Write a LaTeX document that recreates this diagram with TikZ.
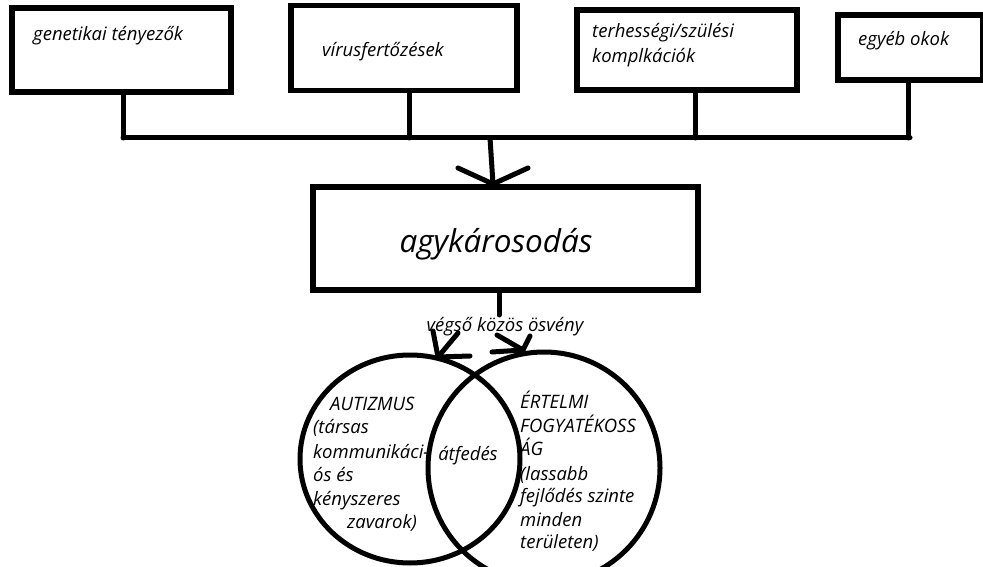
\documentclass[tikz,border=0pt]{standalone}
\usepackage{fontspec}
\setmainfont{Open Sans}
\usetikzlibrary{shapes.geometric}
\begin{document}
\begin{tikzpicture}[x=1pt,y=-1pt,
  boxnode/.style={draw, line width=5.5pt, rectangle, inner sep=0pt},
  circnode/.style={draw, line width=5pt, ellipse, inner sep=0pt},
  conn/.style={line width=5pt, line cap=round},
  lbl/.style={font=\itshape\fontsize{18.5}{22}\selectfont, anchor=base west, inner sep=0pt},
  lblc/.style={font=\itshape\fontsize{18.5}{22}\selectfont, anchor=base, inner sep=0pt}]
\useasboundingbox (0,0) rectangle (983,567);
\fill[white] (0,0) rectangle (983,567);
\clip (0,0) rectangle (983,567);
% top boxes
\node[boxnode, minimum width=219pt, minimum height=84pt] (b1) at (121.5,50) {};
\node[boxnode, minimum width=226pt, minimum height=85pt] (b2) at (404,48) {};
\node[boxnode, minimum width=220pt, minimum height=80pt] (b3) at (687,50) {};
\node[boxnode, minimum width=145pt, minimum height=65pt] (b4) at (910.5,47.5) {};
\node[lbl] (t1) at (33,41) {genetikai tényezők};
\node[lbl] (t2) at (322,57) {vírusfertőzések};
\node[lbl] (t3a) at (592,38) {terhességi/szülési};
\node[lbl] (t3b) at (592,63) {komplkációk};
\node[lbl] (t4) at (858,46) {egyéb okok};
% bus
\coordinate (busL) at (123,138);
\coordinate (busR) at (910,138);
\coordinate (bus1) at (123,138);
\coordinate (bus2) at (409,138);
\coordinate (bus3) at (695,138);
\coordinate (bus4) at (908,138);
\coordinate (busM) at (490,138);
\draw[conn] (b1.south -| bus1) -- (bus1);
\draw[conn] (b2.south -| bus2) -- (bus2);
\draw[conn] (b3.south -| bus3) -- (bus3);
\draw[conn] (b4.south -| bus4) -- (bus4);
\draw[conn] (busL) -- (busR);
% main box
\node[boxnode, minimum width=385pt, minimum height=103pt] (main) at (505.5,238.5) {};
\node[font=\itshape\fontsize{31.5}{36}\selectfont, anchor=base, inner sep=0pt] (mt) at (496,252) {agykárosodás};
% arrow into main box
\coordinate (tip) at (493,184);
\coordinate (barbL) at (458,168);
\coordinate (barbR) at (528,168);
\draw[conn] (busM) -- (tip);
\draw[conn] (barbL) -- (tip) -- (barbR);
% path label
\coordinate (stem) at (499,315);
\draw[conn] (main.south -| stem) -- (stem);
\node[lblc] (path) at (505,331) {végső közös ösvény};
% left arrow
\coordinate (lshaft) at (458,333);
\coordinate (ltip) at (438,357);
\coordinate (lb1) at (433,331);
\coordinate (lb2) at (470,356);
\draw[conn] (lshaft) -- (ltip);
\draw[conn] (lb1) -- (ltip) -- (lb2);
% right arrow
\coordinate (rshaft) at (497,335);
\coordinate (rtip) at (523,350);
\coordinate (rb1) at (530,336);
\coordinate (rb2) at (492,352);
\draw[conn] (rshaft) -- (rtip);
\draw[conn] (rb1) -- (rtip) -- (rb2);
% circles
\node[circnode, minimum width=220pt, minimum height=208pt] (aut) at (410,459) {};
\node[circnode, minimum width=232pt, minimum height=232pt] (ert) at (544,468) {};
% left texts
\node[lbl] (a1) at (330,410) {AUTIZMUS};
\node[lbl] (a2) at (313,433) {(társas};
\node[lbl] (a3) at (313,458) {kommunikáci-};
\node[lbl] (a4) at (313,481) {ós és};
\node[lbl] (a5) at (313,505) {kényszeres};
\node[lbl] (a6) at (347,528) {zavarok)};
% overlap
\node[lblc] (ov) at (468,460) {átfedés};
% right texts
\node[lbl] (e1) at (520,408) {ÉRTELMI};
\node[lbl] (e2) at (520,432) {FOGYATÉKOSS};
\node[lbl] (e3) at (520,455) {ÁG};
\node[lbl] (e4) at (520,480) {(lassabb};
\node[lbl] (e5) at (520,502) {fejlődés szinte};
\node[lbl] (e6) at (520,526) {minden};
\node[lbl] (e7) at (520,548) {területen)};
\end{tikzpicture}
\end{document}
